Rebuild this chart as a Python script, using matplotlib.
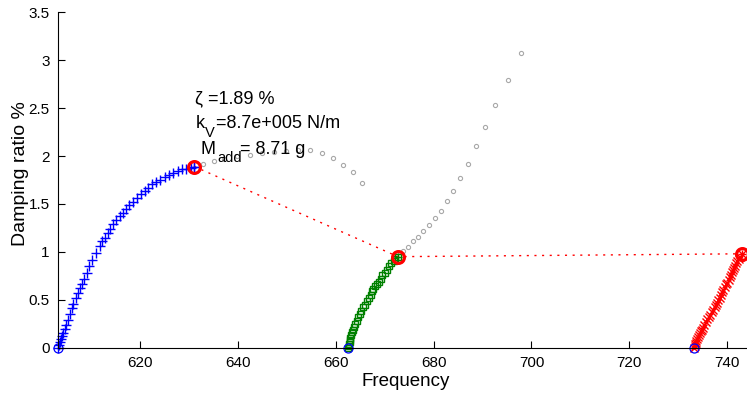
import matplotlib
matplotlib.use('Agg')
import matplotlib.pyplot as plt
from matplotlib.transforms import offset_copy

plt.rcParams['font.family'] = ['Liberation Sans', 'DejaVu Sans']

# --- branch 1 (blue)
f_blue = [603.3, 603.5, 603.7, 603.9, 604.1, 604.3, 604.6, 604.9, 605.2, 605.6,
          606.0, 606.3, 606.8, 607.2, 607.7, 608.1, 608.6, 609.1, 609.6, 610.1,
          610.9, 611.7, 612.3, 612.8, 613.4, 613.9, 614.5, 615.1, 615.8, 616.5,
          617.1, 617.8, 618.6, 619.4, 620.2, 621.0, 621.7, 622.5, 623.3, 624.1,
          625.0, 625.9, 626.8, 627.7, 628.6, 629.4, 630.3, 631.1]
z_blue = [0.00, 0.03, 0.06, 0.09, 0.12, 0.15, 0.20, 0.24, 0.29, 0.35,
          0.41, 0.46, 0.52, 0.57, 0.62, 0.67, 0.72, 0.78, 0.85, 0.92,
          0.99, 1.06, 1.11, 1.15, 1.20, 1.24, 1.29, 1.33, 1.37, 1.41,
          1.45, 1.49, 1.52, 1.56, 1.60, 1.64, 1.67, 1.71, 1.73, 1.75,
          1.78, 1.80, 1.82, 1.84, 1.86, 1.87, 1.88, 1.89]

# --- branch 2 (green)
f_green = [662.5, 662.6, 662.7, 662.8, 662.9, 663.0, 663.2, 663.4, 663.6, 663.8,
           664.0, 664.3, 664.6, 664.9, 665.2, 665.6, 666.0, 666.4, 666.7, 667.1,
           667.4, 667.7, 668.0, 668.5, 668.9, 669.2, 669.5, 670.0, 670.4, 670.9,
           671.3, 671.8, 672.2, 672.7]
z_green = [0.00, 0.02, 0.04, 0.06, 0.08, 0.10, 0.13, 0.16, 0.19, 0.22,
           0.25, 0.28, 0.32, 0.35, 0.38, 0.42, 0.45, 0.49, 0.52, 0.55,
           0.59, 0.61, 0.64, 0.66, 0.69, 0.72, 0.76, 0.78, 0.81, 0.85,
           0.88, 0.91, 0.93, 0.95]

# --- branch 3 (red)
f_red = [733.3, 733.4, 733.5, 733.6, 733.7, 733.8, 734.0, 734.2, 734.4, 734.6,
         734.8, 735.0, 735.3, 735.6, 735.9, 736.2, 736.5, 736.9, 737.2, 737.5,
         737.7, 738.0, 738.2, 738.5, 738.8, 739.0, 739.2, 739.5, 739.7, 740.0,
         740.3, 740.5, 740.7, 741.0, 741.2, 741.4, 741.6, 741.9, 742.1, 742.4,
         742.7, 743.1]
z_red = [0.00, 0.02, 0.04, 0.05, 0.07, 0.09, 0.11, 0.13, 0.15, 0.17,
         0.19, 0.21, 0.24, 0.27, 0.30, 0.32, 0.34, 0.37, 0.39, 0.42,
         0.45, 0.47, 0.50, 0.52, 0.55, 0.58, 0.60, 0.63, 0.66, 0.68,
         0.71, 0.74, 0.76, 0.79, 0.81, 0.83, 0.85, 0.88, 0.90, 0.93,
         0.95, 0.98]

# --- grey continuation dots
f_grey1 = [632.9, 635.0, 637.2, 639.7, 642.5, 645.0, 647.4, 649.9, 652.3, 654.8,
           657.2, 659.4, 661.5, 663.5, 665.4]
z_grey1 = [1.92, 1.95, 1.97, 2.00, 2.01, 2.03, 2.04, 2.05, 2.06, 2.06,
           2.03, 1.98, 1.91, 1.83, 1.72]
f_grey2 = [673.7, 674.7, 675.8, 676.8, 677.9, 679.0, 680.3, 681.4, 682.7, 684.0,
           685.4, 687.0, 688.7, 690.5, 692.6, 695.1, 697.8]
z_grey2 = [1.01, 1.05, 1.11, 1.16, 1.22, 1.28, 1.35, 1.43, 1.53, 1.64,
           1.77, 1.92, 2.10, 2.30, 2.53, 2.79, 3.07]

# selected points (red circles) and starting points (blue circles)
f_sel = [631.1, 672.7, 743.1]
z_sel = [1.89, 0.95, 0.98]
f_start = [603.3, 662.5, 733.3]

fig = plt.figure(figsize=(7.47, 3.95), dpi=100)
ax = fig.add_axes([0.0776, 0.1197, 0.9312, 0.8492])

ax.plot(f_grey1, z_grey1, 'o', color='#a8a8a8', ms=3, mfc='none', mew=0.8, clip_on=False)
ax.plot(f_grey2, z_grey2, 'o', color='#a8a8a8', ms=3, mfc='none', mew=0.8, clip_on=False)

ax.plot(f_blue, z_blue, '+', color='blue', ms=7, mew=1, clip_on=False)
ax.plot(f_green, z_green, 's', color='#008000', ms=5, mfc='none', mew=1, clip_on=False)
ax.plot(f_red, z_red, 'x', color='red', ms=5.5, mew=1, clip_on=False)

ax.plot(f_sel, z_sel, color='red', lw=1, linestyle=(0, (1.5, 4)), clip_on=False)
ax.plot(f_sel, z_sel, 'o', color='red', ms=8.5, mfc='none', mew=2.3, clip_on=False)
ax.plot(f_sel[0], z_sel[0], '+', color='blue', ms=6, mew=1, clip_on=False)
ax.plot(f_sel[1], z_sel[1], '+', color='#008000', ms=6, mew=1, clip_on=False)
ax.plot(f_sel[2], z_sel[2], '+', color='red', ms=6, mew=1, clip_on=False)

ax.plot(f_start, [0, 0, 0], 'o', color='blue', ms=6.5, mfc='none', mew=0.9, clip_on=False)

# annotation (TeX-like subscripts placed by hand)
def piece(x, y, s, dx, dy, size):
    tr = offset_copy(ax.transData, fig=fig, x=dx, y=dy, units='points')
    ax.text(x, y, s, transform=tr, fontsize=size, ha='left', va='baseline')

tx = 631.3
piece(tx, 2.55, 'ζ =1.89 %', 0, 0, 13)
piece(tx, 2.296, 'k', 0, 0, 13)
piece(tx, 2.296, 'V', 7.0, -6.8, 10.5)
piece(tx, 2.296, '=8.7e+005 N/m', 14.5, 0, 13)
piece(tx, 2.022, 'M', 4.0, 0, 13)
piece(tx, 2.022, 'add', 15.5, -6.0, 10.5)
piece(tx, 2.022, '= 8.71 g', 32.0, 0, 13)

ax.set_xlim(603.2, 745.4)
ax.set_ylim(0, 3.5)
ax.set_xticks([620, 640, 660, 680, 700, 720, 740])
ax.set_yticks([0, 0.5, 1, 1.5, 2, 2.5, 3, 3.5])
ax.set_yticklabels(['0', '0.5', '1', '1.5', '2', '2.5', '3', '3.5'])
ax.tick_params(direction='in', length=5, width=0.8, labelsize=11, pad=6)
ax.spines['top'].set_visible(False)
ax.spines['right'].set_visible(False)
ax.set_xlabel('Frequency', fontsize=13.5, labelpad=2)
ax.set_ylabel('Damping ratio %', fontsize=14)
ax.yaxis.set_label_coords(-0.042, 0.518)

fig.savefig('out.png', dpi=100)
